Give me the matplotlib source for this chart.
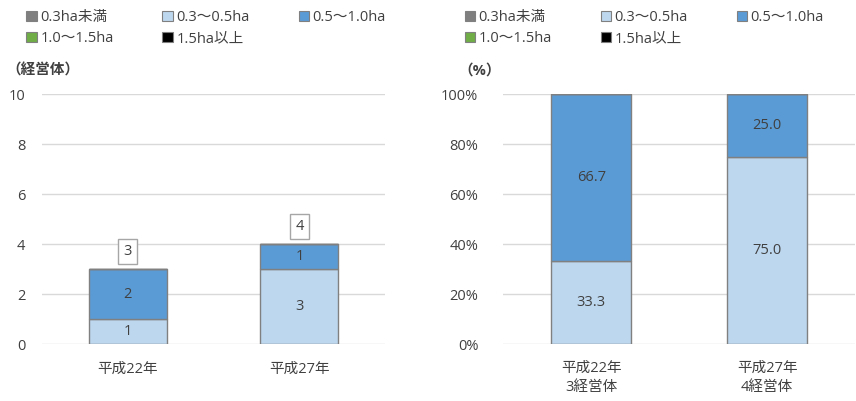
import matplotlib
matplotlib.use("Agg")
import matplotlib.pyplot as plt
from matplotlib.patches import Patch
import numpy as np

plt.rcParams['font.family'] = ['Open Sans', 'Noto Sans CJK JP', 'DejaVu Sans']

# 経営耕地面積規模別の経営体数
years = ['平成22年', '平成27年']
years_pct = ['平成22年\n3経営体', '平成27年\n4経営体']
classes = ['0.3ha未満', '0.3〜0.5ha', '0.5〜1.0ha', '1.0〜1.5ha', '1.5ha以上']
colors = ['#7F7F7F', '#BDD7EE', '#5B9BD5', '#70AD47', '#000000']

counts = [
    [0, 0],   # 0.3ha未満
    [1, 3],   # 0.3〜0.5ha
    [2, 1],   # 0.5〜1.0ha
    [0, 0],   # 1.0〜1.5ha
    [0, 0],   # 1.5ha以上
]
shares = [
    [0.0, 0.0],
    [33.3, 75.0],
    [66.7, 25.0],
    [0.0, 0.0],
    [0.0, 0.0],
]
totals = [3, 4]

txt = '#404040'
edge = '#808080'
grid = '#D9D9D9'
fs = 10.5

fig = plt.figure(figsize=(8.56, 4.01), dpi=100)
ax1 = fig.add_axes([0.049, 0.142, 0.401, 0.623])
ax2 = fig.add_axes([0.588, 0.142, 0.411, 0.623])


def stacked(ax, data, fmt):
    x = np.arange(len(data[0]))
    bottom = np.zeros(len(x))
    for vals, c in zip(data, colors):
        vals = np.array(vals, dtype=float)
        ax.bar(x, vals, 0.455, bottom=bottom, color=c, edgecolor=edge,
               linewidth=1.0, zorder=3)
        for xi, b, v in zip(x, bottom, vals):
            if v > 0:
                ax.text(xi, b + v / 2, fmt.format(v), ha='center', va='center',
                        fontsize=fs, color=txt, zorder=4)
        bottom += vals
    return x


def style(ax):
    for s in ax.spines.values():
        s.set_visible(False)
    ax.yaxis.grid(True, color=grid, linewidth=1.0, zorder=0)
    ax.set_axisbelow(True)
    ax.tick_params(length=0, colors=txt, labelsize=fs)
    ax.set_xlim(-0.5, 1.5)


x1 = stacked(ax1, counts, '{:.0f}')
for xi, t in zip(x1, totals):
    ax1.annotate(str(t), (xi, t), xytext=(0, 12.5), textcoords='offset points',
                 ha='center', va='center', fontsize=fs, color=txt,
                 bbox=dict(boxstyle='square,pad=0.35', fc='white', ec='#A6A6A6', lw=1.0))
style(ax1)
ax1.set_ylim(0, 10)
ax1.set_yticks(range(0, 11, 2))
ax1.set_xticks(x1)
ax1.set_xticklabels(years)
ax1.tick_params(axis='y', pad=12)
ax1.tick_params(axis='x', pad=13)
fig.text(0.008, 0.825, '（経営体）', fontsize=fs, color=txt, va='center', fontweight='bold')

x2 = stacked(ax2, shares, '{:.1f}')
style(ax2)
ax2.set_ylim(0, 100)
ax2.set_yticks(range(0, 101, 20))
ax2.set_yticklabels([f'{v}%' for v in range(0, 101, 20)])
ax2.set_xticks(x2)
ax2.set_xticklabels(years_pct, linespacing=1.35)
ax2.tick_params(axis='y', pad=18)
ax2.tick_params(axis='x', pad=12)
fig.text(0.535, 0.825, '（%）', fontsize=fs, color=txt, va='center', fontweight='bold')

# legend order so rows read left to right
order = [0, 3, 1, 4, 2]
handles = [Patch(facecolor=colors[i], edgecolor=edge, linewidth=0.8, label=classes[i]) for i in order]
for xpos in (0.024, 0.536):
    fig.legend(handles=handles, loc='upper left', bbox_to_anchor=(xpos, 0.99), ncol=3,
               frameon=False, fontsize=fs, handlelength=0.7, handleheight=0.7,
               handletextpad=0.25, columnspacing=3.35, labelspacing=0.45,
               labelcolor=txt, borderaxespad=0)

fig.savefig('out.png', dpi=100)
